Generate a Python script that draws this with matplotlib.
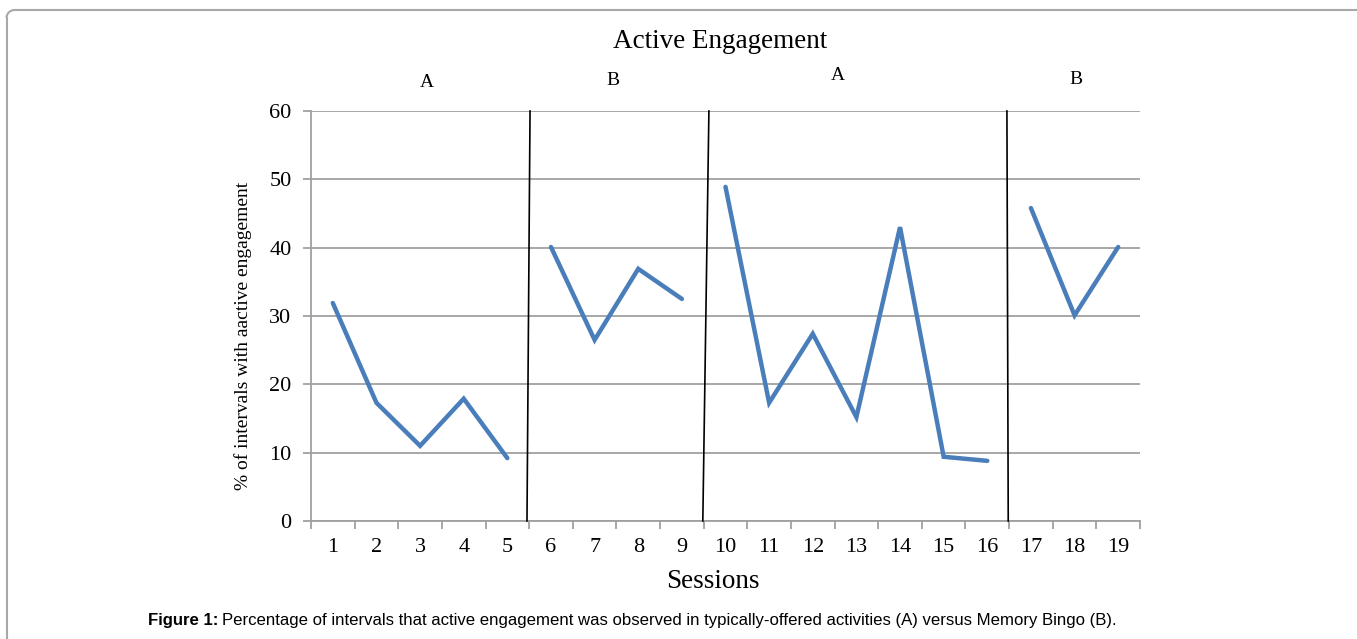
import matplotlib
matplotlib.use("Agg")
import matplotlib.pyplot as plt
from matplotlib.lines import Line2D
from matplotlib.patches import Arc
import numpy as np

sessions = list(range(1, 20))
engagement = [31.9, 17.3, 11.0, 17.9, 9.2,
              40.1, 26.5, 36.9, 32.5,
              48.9, 17.3, 27.4, 15.2, 43.0, 9.4, 8.8,
              45.8, 30.1, 40.1]
phase_segments = [(1, 5), (6, 9), (10, 16), (17, 19)]
phase_labels = ["A", "B", "A", "B"]
phase_label_x = [3.16, 7.42, 12.58, 18.03]
phase_label_y = [64.1, 64.4, 65.2, 64.6]
# phase change lines: (x at top, x at bottom)
phase_lines = [(5.52, 5.45), (9.62, 9.48), (16.45, 16.48)]
yticks = [0, 10, 20, 30, 40, 50, 60]

serif = "Liberation Serif"
W, H = 1357, 639
fig = plt.figure(figsize=(W / 100, H / 100), dpi=100)
ax = fig.add_axes([311 / W, 1 - 521 / H, (1140 - 311) / W, (521 - 111) / H])

for (s, e) in phase_segments:
    xs = sessions[s - 1:e]
    ys = engagement[s - 1:e]
    ax.plot(xs, ys, color="#4a7ebb", lw=3.2, solid_capstyle="round",
            solid_joinstyle="miter", zorder=3)

for (xt, xb) in phase_lines:
    ax.plot([xt, xb], [60, 0], color="black", lw=1.2, zorder=4, clip_on=False)

ax.set_xlim(0.5, 19.5)
ax.set_ylim(0, 60)
ax.set_yticks(yticks)
ax.set_xticks(sessions)
ax.grid(axis="y", color="#a0a0a0", lw=1.3, zorder=1)
for sp in ["top", "right"]:
    ax.spines[sp].set_visible(False)
ax.spines["left"].set_color("#a0a0a0")
ax.spines["bottom"].set_color("#a0a0a0")
ax.spines["left"].set_linewidth(1.3)
ax.spines["bottom"].set_linewidth(1.3)
ax.tick_params(axis="y", length=6, color="#a0a0a0", width=1.3, pad=8)
ax.tick_params(axis="x", length=0, pad=12)
ax.set_xticks(np.arange(0.5, 19.6, 1.0), minor=True)
ax.tick_params(axis="x", which="minor", length=6, color="#a0a0a0", width=1.3, direction="out")
for lab in ax.get_xticklabels() + ax.get_yticklabels():
    lab.set_fontfamily(serif)
    lab.set_fontsize(16)

fig.text(243 / W, 1 - 336 / H, "% of intervals with aactive engagement", family=serif,
         fontsize=14, rotation=90, ha="center", va="center")
fig.text(713 / W, 1 - 581 / H, "Sessions", family=serif, fontsize=19.5,
         ha="center", va="center")

for lx, ly, lt in zip(phase_label_x, phase_label_y, phase_labels):
    ax.text(lx, ly, lt, family=serif, fontsize=14, ha="center", va="center", clip_on=False)

fig.text(720 / W, 1 - 41 / H, "Active Engagement", family=serif, fontsize=19.5,
         ha="center", va="center")

# caption
cap_y = 1 - 620 / H
t1 = fig.text(148 / W, cap_y, "Figure 1:", family="Liberation Sans", weight="bold",
              fontsize=12.1, ha="left", va="center")
fig.canvas.draw()
bb = t1.get_window_extent()
fig.text((bb.x1 + 4) / W, cap_y,
         "Percentage of intervals that active engagement was observed in typically-offered activities (A) versus Memory Bingo (B).",
         family="Liberation Sans", fontsize=12.1, ha="left", va="center")

# border with rounded top-left corner
r = 8
bc = "#a8a8a8"
fig.add_artist(Line2D([(6.5 + r) / W, 1.0], [1 - 10 / H, 1 - 10 / H], color=bc, lw=1.5))
fig.add_artist(Line2D([6.5 / W, 6.5 / W], [0, 1 - (10 + r) / H], color=bc, lw=1.5))
fig.add_artist(Arc(((6.5 + r) / W, 1 - (10 + r) / H), 2 * r / W, 2 * r / H,
                   theta1=90, theta2=180, color=bc, lw=1.5, transform=fig.transFigure))

fig.savefig("out.png", dpi=100)
